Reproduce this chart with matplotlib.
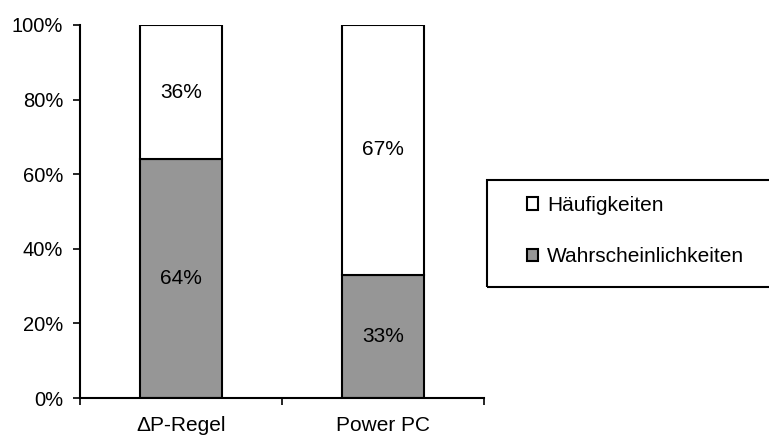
import matplotlib
matplotlib.use("Agg")
import matplotlib.pyplot as plt
from matplotlib.patches import Rectangle, Patch
from matplotlib.ticker import FixedLocator, PercentFormatter

plt.rcParams['font.family'] = ['Liberation Sans', 'DejaVu Sans']

categories = ["\u0394P-Regel", "Power PC"]
wahrscheinlichkeiten = [64, 33]
haeufigkeiten = [36, 67]
series_names = ["H\u00e4ufigkeiten", "Wahrscheinlichkeiten"]

fig = plt.figure(figsize=(7.69, 4.38), dpi=100)
ax = fig.add_axes([80 / 769, 1 - 398 / 438, 404 / 769, 373 / 438])

x = list(range(len(categories)))
ax.bar(x, wahrscheinlichkeiten, width=0.405, color="#969696",
       edgecolor="black", linewidth=1.5)
ax.bar(x, haeufigkeiten, width=0.405, bottom=wahrscheinlichkeiten,
       color="white", edgecolor="black", linewidth=1.5)

for i in x:
    ax.text(i, wahrscheinlichkeiten[i] / 2, f"{wahrscheinlichkeiten[i]}%",
            ha="center", va="center", fontsize=15)
    ax.text(i, wahrscheinlichkeiten[i] + haeufigkeiten[i] / 2,
            f"{haeufigkeiten[i]}%", ha="center", va="center", fontsize=15)

ax.set_xlim(-0.5, 1.5)
ax.set_ylim(0, 100)
ax.yaxis.set_major_locator(FixedLocator([0, 20, 40, 60, 80, 100]))
ax.yaxis.set_major_formatter(PercentFormatter(decimals=0))
ax.tick_params(axis="y", direction="out", length=5, width=1.2,
               labelsize=14.5, pad=7)

# category boundary ticks on the x axis, labels at the centres
ax.set_xticks([-0.5, 0.5, 1.5])
ax.set_xticklabels([])
ax.tick_params(axis="x", which="major", direction="out", length=5, width=1.2)
ax.set_xticks(x, minor=True)
ax.set_xticklabels(categories, minor=True)
ax.tick_params(axis="x", which="minor", length=0, labelsize=15, pad=13)

for side in ("top", "right"):
    ax.spines[side].set_visible(False)
for side in ("left", "bottom"):
    ax.spines[side].set_linewidth(1.5)

# legend with a frame running off the right edge
fig.patches.append(Rectangle((487 / 769, 1 - 287 / 438), 300 / 769, 107 / 438,
                             transform=fig.transFigure, fill=False,
                             edgecolor="black", linewidth=1.5))
handles = [Patch(facecolor="white", edgecolor="black", linewidth=1.5),
           Patch(facecolor="#969696", edgecolor="black", linewidth=1.5)]
fig.legend(handles, series_names, loc="upper left",
           bbox_to_anchor=(527 / 769, 1 - 196 / 438), frameon=False,
           fontsize=15, handlelength=0.55, handleheight=0.55,
           handletextpad=0.4, labelspacing=1.55, borderpad=0, borderaxespad=0)

fig.savefig("out.png", dpi=100)
